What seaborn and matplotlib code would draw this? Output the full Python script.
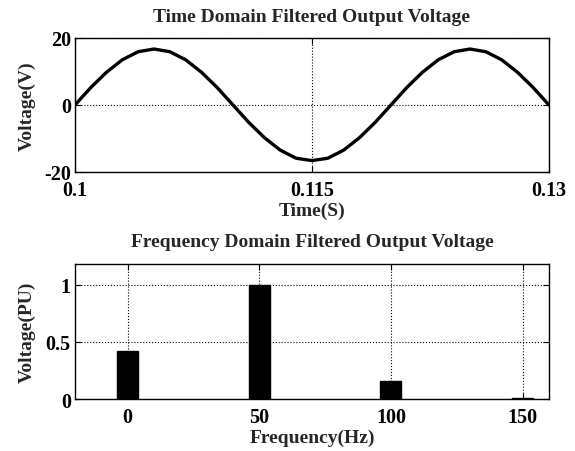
import matplotlib
matplotlib.use("Agg")
import matplotlib.pyplot as plt
import seaborn as sns
import pandas as pd

sns.set_theme(style="white")
plt.rcParams['font.family'] = ['Liberation Serif', 'DejaVu Serif']
plt.rcParams['font.weight'] = 'bold'
plt.rcParams['axes.unicode_minus'] = False

# Time-domain samples
time_s = [0.100, 0.101, 0.102, 0.103, 0.104, 0.105, 0.106, 0.107, 0.108, 0.109,
          0.110, 0.111, 0.112, 0.113, 0.114, 0.115, 0.116, 0.117, 0.118, 0.119,
          0.120, 0.121, 0.122, 0.123, 0.124, 0.125, 0.126, 0.127, 0.128, 0.129, 0.130]
voltage_v = [0.0, 5.2, 9.8, 13.5, 15.9, 16.7, 15.9, 13.5, 9.8, 5.2,
             0.0, -5.2, -9.8, -13.5, -15.9, -16.6, -15.9, -13.5, -9.8, -5.2,
             0.0, 5.2, 9.8, 13.5, 15.9, 16.7, 15.9, 13.5, 9.8, 5.2, 0.0]

# Frequency-domain magnitudes
freq_hz = [0, 50, 100, 150]
mag_pu = [0.42, 1.0, 0.155, 0.01]

time_ticks = [0.1, 0.115, 0.13]
time_ticklabels = ['0.1', '0.115', '0.13']
volt_ticks = [-20, 0, 20]
volt_ticklabels = ['-20', '0', '20']
freq_ticks = [0, 50, 100, 150]
pu_ticks = [0, 0.5, 1]
pu_ticklabels = ['0', '0.5', '1']

TXT = 14
TICK = 14.5

fig = plt.figure(figsize=(5.75, 4.52), dpi=100)
ax1 = fig.add_axes([0.1304, 0.6173, 0.8243, 0.2965])
ax2 = fig.add_axes([0.1304, 0.115, 0.8243, 0.2987])

df_t = pd.DataFrame({'t': time_s, 'v': voltage_v})
sns.lineplot(data=df_t, x='t', y='v', ax=ax1, color='black', linewidth=2.4)
ax1.set_xlim(0.1, 0.13)
ax1.set_ylim(-20, 20)
ax1.set_xticks(time_ticks)
ax1.set_xticklabels(time_ticklabels)
ax1.set_yticks(volt_ticks)
ax1.set_yticklabels(volt_ticklabels)
ax1.set_title('Time Domain Filtered Output Voltage', fontsize=TXT, fontweight='bold', pad=12)
ax1.set_xlabel('Time(S)', fontsize=TXT, fontweight='bold', labelpad=1)
ax1.set_ylabel('Voltage(V)', fontsize=TXT, fontweight='bold')

df_f = pd.DataFrame({'f': freq_hz, 'm': mag_pu})
sns.barplot(data=df_f, x='f', y='m', ax=ax2, native_scale=True, color='black',
            saturation=1, width=0.16, edgecolor='black')
ax2.set_xlim(-20, 160)
ax2.set_ylim(0, 1.18)
ax2.set_xticks(freq_ticks)
ax2.set_xticklabels([str(v) for v in freq_ticks])
ax2.set_yticks(pu_ticks)
ax2.set_yticklabels(pu_ticklabels)
ax2.set_title('Frequency Domain Filtered Output Voltage', fontsize=TXT, fontweight='bold', pad=13)
ax2.set_xlabel('Frequency(Hz)', fontsize=TXT, fontweight='bold', labelpad=1)
ax2.set_ylabel('Voltage(PU)', fontsize=TXT, fontweight='bold')

for ax in (ax1, ax2):
    ax.yaxis.set_label_coords(-0.083, 0.5)
    ax.grid(True, color='black', linestyle=':', linewidth=0.8)
    ax.set_axisbelow(True)
    ax.tick_params(direction='in', length=4, width=0.8, colors='black',
                   top=True, right=True, bottom=True, left=True, labelsize=TICK)
    ax.tick_params(axis='x', pad=6)
    ax.tick_params(axis='y', pad=3)
    for lab in ax.get_xticklabels() + ax.get_yticklabels():
        lab.set_fontweight('bold')
    for s in ax.spines.values():
        s.set_visible(True)
        s.set_color('black')
        s.set_linewidth(1.0)

fig.savefig('out.png', dpi=100)
